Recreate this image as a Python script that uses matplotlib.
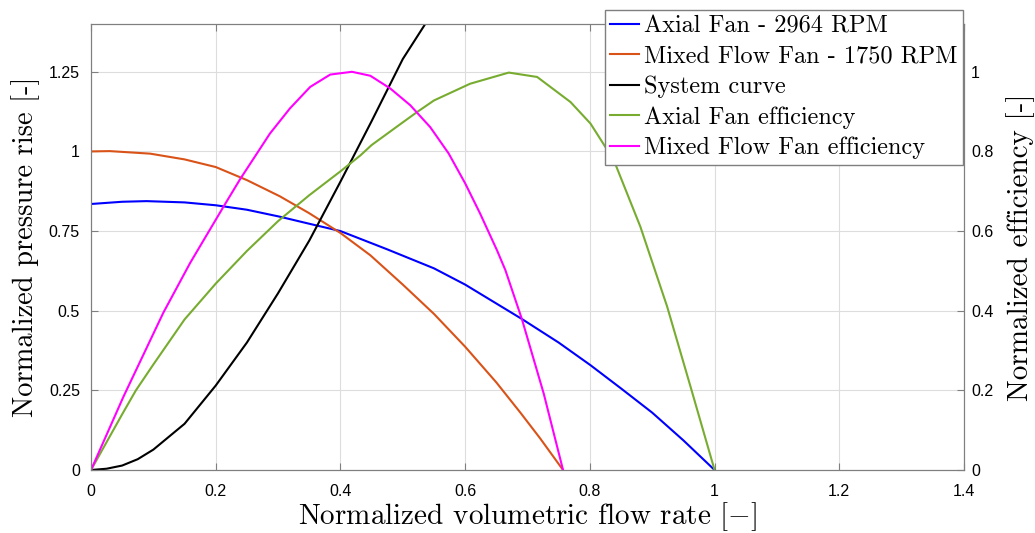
import matplotlib
matplotlib.use("Agg")
import matplotlib.pyplot as plt

# kurven
x_axial = [0, 0.05, 0.089, 0.15, 0.2, 0.25, 0.303, 0.35, 0.4, 0.4746, 0.55, 0.6, 0.691,
           0.75, 0.801, 0.85, 0.9, 0.95, 1.0]
p_axial = [0.835, 0.842, 0.844, 0.84, 0.831, 0.817, 0.795, 0.773, 0.75, 0.693, 0.633, 0.582, 0.474,
           0.40, 0.329, 0.256, 0.18, 0.093, 0.0]

x_mixed = [0, 0.03, 0.095, 0.15, 0.2, 0.25, 0.303, 0.35, 0.4, 0.448, 0.5, 0.55, 0.6, 0.65,
           0.689, 0.72, 0.757]
p_mixed = [1.0, 1.001, 0.993, 0.975, 0.951, 0.91, 0.859, 0.806, 0.744, 0.674, 0.582, 0.49, 0.387, 0.275,
           0.179, 0.10, 0.0]

x_sys = [0, 0.025, 0.05, 0.075, 0.1, 0.15, 0.2, 0.25, 0.3, 0.35, 0.4, 0.45, 0.5, 0.536]
p_sys = [0, 0.004, 0.014, 0.034, 0.064, 0.145, 0.265, 0.40, 0.555, 0.72, 0.905, 1.095, 1.29, 1.40]

x_eff_axial = [0, 0.05, 0.072, 0.1, 0.15, 0.2, 0.25, 0.3, 0.35, 0.4, 0.432, 0.45, 0.5, 0.523,
               0.55, 0.608, 0.67, 0.7155, 0.769, 0.801, 0.8384, 0.881, 0.924, 0.9615, 1.0]
eff_axial = [0, 0.14, 0.2, 0.265, 0.378, 0.468, 0.55, 0.625, 0.69, 0.75, 0.79, 0.816, 0.873, 0.899,
             0.928, 0.970, 0.998, 0.987, 0.924, 0.87, 0.778, 0.611, 0.41, 0.209, 0.0]

x_eff_mixed = [0, 0.052, 0.116, 0.159, 0.2124, 0.239, 0.287, 0.319, 0.3515, 0.3836, 0.4185, 0.448,
               0.48, 0.512, 0.544, 0.5735, 0.6, 0.624, 0.651, 0.6645, 0.691, 0.726, 0.757]
eff_mixed = [0, 0.184, 0.395, 0.52, 0.661, 0.73, 0.845, 0.908, 0.962, 0.993, 1.0, 0.99,
             0.958, 0.916, 0.861, 0.795, 0.72, 0.644, 0.552, 0.502, 0.379, 0.192, 0.0]

names = ["Axial Fan - 2964 RPM", "Mixed Flow Fan - 1750 RPM", "System curve",
         "Axial Fan efficiency", "Mixed Flow Fan efficiency"]
colors = ["#0000FF", "#D95319", "#000000", "#77AC30", "#FF00FF"]

x_ticks = [0, 0.2, 0.4, 0.6, 0.8, 1.0, 1.2, 1.4]
x_ticklabels = ["0", "0.2", "0.4", "0.6", "0.8", "1", "1.2", "1.4"]
left_ticks = [0, 0.25, 0.5, 0.75, 1.0, 1.25]
left_ticklabels = ["0", "0.25", "0.5", "0.75", "1", "1.25"]
right_ticks = [0, 0.2, 0.4, 0.6, 0.8, 1.0]
right_ticklabels = ["0", "0.2", "0.4", "0.6", "0.8", "1"]

plt.rcParams["mathtext.fontset"] = "cm"
serif = "cmr10"
tickfont = "Liberation Sans"
gray = "#7f7f7f"

fig = plt.figure(figsize=(10.35, 5.33), dpi=100)
ax = fig.add_axes([91 / 1035, 63 / 533, 873 / 1035, 446 / 533])
ax2 = ax.twinx()

h = []
h += ax.plot(x_axial, p_axial, color=colors[0], lw=1.5)
h += ax.plot(x_mixed, p_mixed, color=colors[1], lw=1.5)
h += ax.plot(x_sys, p_sys, color=colors[2], lw=1.5)
h += ax2.plot(x_eff_axial, eff_axial, color=colors[3], lw=1.5)
h += ax2.plot(x_eff_mixed, eff_mixed, color=colors[4], lw=1.5)

ax.set_xlim(0, 1.4)
ax.set_ylim(0, 1.4)
ax2.set_ylim(0, 1.12)

ax.set_xticks(x_ticks)
ax.set_xticklabels(x_ticklabels, fontfamily=tickfont, fontsize=11.5)
ax.set_yticks(left_ticks)
ax.set_yticklabels(left_ticklabels, fontfamily=tickfont, fontsize=11.5)
ax2.set_yticks(right_ticks)
ax2.set_yticklabels(right_ticklabels, fontfamily=tickfont, fontsize=11.5)

ax.grid(True, color="#dddddd", lw=0.8)
ax.set_axisbelow(True)
ax.tick_params(axis="x", direction="in", top=True, length=5, color=gray, pad=10)
ax.tick_params(axis="y", direction="in", length=5, color=gray, pad=8)
ax2.tick_params(axis="y", direction="in", length=5, color=gray, pad=5)
for a in (ax, ax2):
    for s in a.spines.values():
        s.set_color(gray)

ax.set_xlabel(r"Normalized volumetric flow rate $[-]$", fontfamily=serif, fontsize=21, labelpad=1)
ax.set_ylabel("Normalized pressure rise [-]", fontfamily=serif, fontsize=20.5, labelpad=6)
ax2.set_ylabel("Normalized efficiency [-]", fontfamily=serif, fontsize=21, labelpad=9)

leg = fig.legend(h, names, loc="upper right", bbox_to_anchor=(963 / 1035, 1 - 10 / 533),
                 prop={"family": serif, "size": 17.5}, frameon=True, fancybox=False,
                 edgecolor=gray, framealpha=1, borderpad=0.22, labelspacing=0.33,
                 handlelength=1.2, handletextpad=0.2, borderaxespad=0)
leg.get_frame().set_linewidth(1.0)

fig.savefig("out.png", dpi=100)
